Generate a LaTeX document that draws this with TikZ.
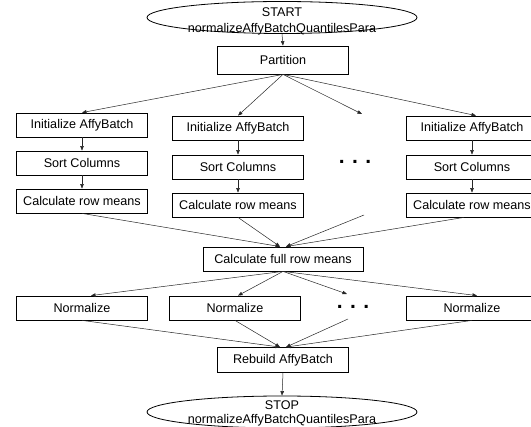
\documentclass[tikz,border=0pt]{standalone}
\usepackage{fontspec}
\setmainfont{Liberation Sans}
\usetikzlibrary{shapes.geometric,arrows.meta,calc}
\begin{document}
\begin{tikzpicture}[x=1pt,y=-1pt,
  box/.style={draw=black, line width=0.8pt, minimum width=131pt, minimum height=24pt, inner sep=0pt, font=\fontsize{12.6}{14}\selectfont},
  ov/.style={draw=black, line width=0.8pt, ellipse, minimum width=270pt, minimum height=32pt, inner sep=0pt},
  lbl/.style={font=\fontsize{12.6}{14}\selectfont, inner sep=0pt, anchor=base},
  dotsty/.style={font=\fontsize{21}{21}\selectfont\bfseries, inner sep=0pt, anchor=base},
  conn/.style={draw=black!85, line width=0.5pt, -{Triangle[length=4.5pt,width=3.5pt]}},
]
\useasboundingbox (0,0) rectangle (531,427);

% start
\node[ov] (start) at (282,17.5) {};
\node[lbl] (startA) at (282,17) {START};
\node[lbl] (startB) at (282,32.5) {normalizeAffyBatchQuantilesPara};

\node[box, minimum height=28pt] (part) at (283,60) {Partition};

% columns
\node[box] (init1) at (82,125) {Initialize AffyBatch};
\node[box] (sort1) at (82,163) {Sort Columns};
\node[box] (calc1) at (82,201) {Calculate row means};

\node[box] (init2) at (238,128) {Initialize AffyBatch};
\node[box] (sort2) at (238,167) {Sort Columns};
\node[box] (calc2) at (238,205) {Calculate row means};

\node[box] (init4) at (472,128) {Initialize AffyBatch};
\node[box] (sort4) at (472,167) {Sort Columns};
\node[box] (calc4) at (472,205) {Calculate row means};

\node[dotsty] (dots1) at (355,164) {.\hspace{0.35em}.\hspace{0.35em}.};

\node[box, minimum width=160pt] (full) at (283,259) {Calculate full row means};

\node[box] (norm1) at (82,308) {Normalize};
\node[box] (norm2) at (235,308) {Normalize};
\node[box] (norm4) at (472,308) {Normalize};
\node[dotsty] (dots2) at (353,309) {.\hspace{0.35em}.\hspace{0.35em}.};

\node[box, minimum height=25pt] (rebuild) at (283,360) {Rebuild AffyBatch};

% stop
\node[ov] (stop) at (282,412) {};
\node[lbl] (stopA) at (282,409.5) {STOP};
\node[lbl] (stopB) at (282,424) {normalizeAffyBatchQuantilesPara};

% free ends
\coordinate (d1) at (362,114);
\coordinate (d2) at (364,215);
\coordinate (d3) at (347,294);
\coordinate (d4) at (348,319);

% connectors
\draw[conn] (start.south) -- (part.north);
\draw[conn] (part.south) -- (init1.north);
\draw[conn] (part.south) -- (init2.north);
\draw[conn] (part.south) -- (d1);
\draw[conn] (part.south) -- ($(init4.north)+(4,0)$);

\draw[conn] (init1) -- (sort1);
\draw[conn] (sort1) -- (calc1);
\draw[conn] (init2) -- (sort2);
\draw[conn] (sort2) -- (calc2);
\draw[conn] (init4) -- (sort4);
\draw[conn] (sort4) -- (calc4);

\draw[conn] (calc1.south) -- ($(full.north)+(-3,0)$);
\draw[conn] (calc2.south) -- ($(full.north)+(-3,0)$);
\draw[conn] (d2) -- ($(full.north)+(3,0)$);
\draw[conn] ($(calc4.south)+(-8,0)$) -- ($(full.north)+(3,0)$);

\draw[conn] (full.south) -- ($(norm1.north)+(9,0)$);
\draw[conn] (full.south) -- ($(norm2.north)+(3,0)$);
\draw[conn] (full.south) -- (d3);
\draw[conn] (full.south) -- ($(norm4.north)+(5,0)$);

\draw[conn] (norm1.south) -- ($(rebuild.north)+(-3,0)$);
\draw[conn] (norm2.south) -- ($(rebuild.north)+(-3,0)$);
\draw[conn] (d4) -- ($(rebuild.north)+(3,0)$);
\draw[conn] (norm4.south) -- ($(rebuild.north)+(3,0)$);

\draw[conn] (rebuild.south) -- (stop.north);
\end{tikzpicture}
\end{document}
